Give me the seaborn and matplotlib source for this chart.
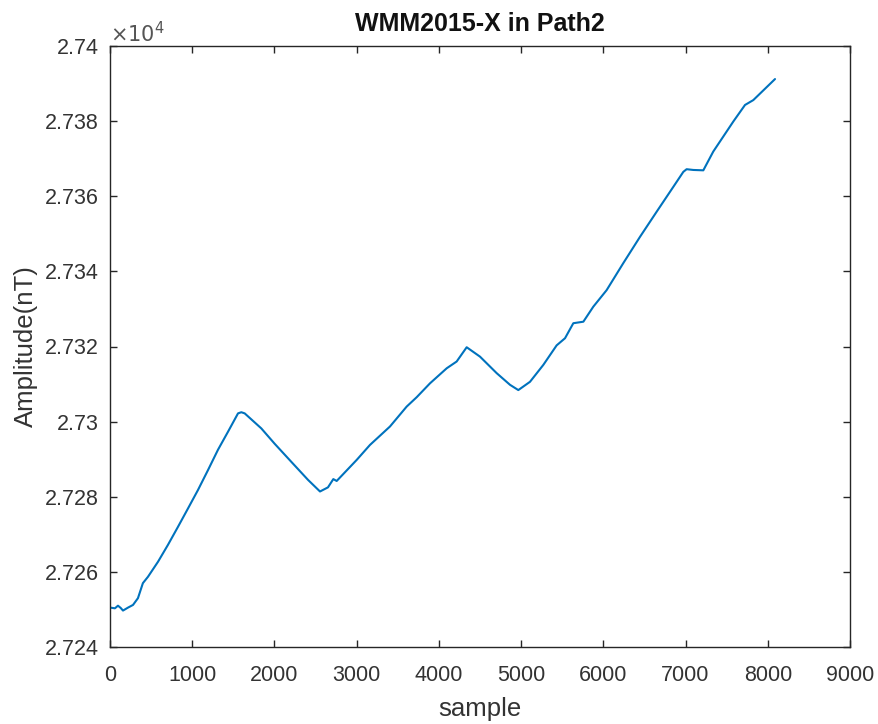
import matplotlib
matplotlib.use("Agg")
import matplotlib.pyplot as plt
import seaborn as sns
import pandas as pd

# ---- data ----
sample = [0, 60, 97, 130, 158, 220, 280, 340, 400, 462, 584, 705, 827, 949,
          1070, 1192, 1313, 1435, 1557, 1597, 1638, 1840, 2003, 2205, 2408,
          2554, 2651, 2716, 2757, 3000, 3162, 3405, 3608, 3730, 3892, 4095,
          4216, 4338, 4500, 4703, 4865, 4966, 5108, 5270, 5432, 5534, 5635,
          5757, 5878, 6040, 6243, 6446, 6649, 6851, 6973, 7013, 7094, 7216,
          7337, 7459, 7581, 7723, 7824, 8088]
amplitude = [27250.5, 27250.3, 27251.0, 27250.4, 27249.7, 27250.5, 27251.2,
             27253.0, 27257.0, 27258.7, 27262.7, 27267.2, 27272.0, 27276.9,
             27281.8, 27287.1, 27292.5, 27297.3, 27302.2, 27302.5, 27302.2,
             27298.2, 27294.1, 27289.3, 27284.5, 27281.4, 27282.5, 27284.7,
             27284.2, 27289.8, 27293.8, 27298.7, 27304.0, 27306.5, 27310.2,
             27314.2, 27316.0, 27319.8, 27317.3, 27312.9, 27309.8, 27308.4,
             27310.6, 27315.1, 27320.3, 27322.2, 27326.2, 27326.6, 27330.6,
             27335.0, 27342.2, 27349.2, 27355.9, 27362.5, 27366.5, 27367.2,
             27367.0, 27366.9, 27371.9, 27375.9, 27379.9, 27384.3, 27385.6,
             27391.2]

x_ticks = [0, 1000, 2000, 3000, 4000, 5000, 6000, 7000, 8000, 9000]
x_tick_labels = ["0", "1000", "2000", "3000", "4000", "5000", "6000",
                 "7000", "8000", "9000"]
y_ticks = [27240, 27260, 27280, 27300, 27320, 27340, 27360, 27380, 27400]
y_tick_labels = ["2.724", "2.726", "2.728", "2.73", "2.732", "2.734",
                 "2.736", "2.738", "2.74"]

title = "WMM2015-X in Path2"
x_label = "sample"
y_label = "Amplitude(nT)"

# ---- styling ----
sns.set_style("white")
plt.rcParams["font.family"] = ["Liberation Sans", "DejaVu Sans"]
ink = "#262626"
txt = "#333333"

fig = plt.figure(figsize=(8.79, 7.24), dpi=100)
ax = fig.add_axes([110 / 879, 1 - 647 / 724, 740 / 879, 601 / 724])

df = pd.DataFrame({"sample": sample, "amplitude": amplitude})
sns.lineplot(data=df, x="sample", y="amplitude", ax=ax, color="#0072BD",
             linewidth=1.5, estimator=None, sort=False)

ax.set_xlim(0, 9000)
ax.set_ylim(27240, 27400)
ax.set_xticks(x_ticks)
ax.set_xticklabels(x_tick_labels)
ax.set_yticks(y_ticks)
ax.set_yticklabels(y_tick_labels)

ax.tick_params(axis="both", direction="in", length=5, width=1,
               color=ink, labelcolor=txt, labelsize=15.5, top=True,
               right=True, bottom=True, left=True)
ax.tick_params(axis="x", pad=13)
ax.tick_params(axis="y", pad=8)
for s in ax.spines.values():
    s.set_visible(True)
    s.set_color(ink)
    s.set_linewidth(1)

ax.set_xlabel(x_label, fontsize=18.5, color=txt, labelpad=8)
ax.set_ylabel(y_label, fontsize=18.5, color=txt, labelpad=5)
ax.set_title(title, fontsize=18, fontweight="bold", color="#111111", pad=11)

ax.text(0.0, 1.0, r"$\times10^{4}$", transform=ax.transAxes,
        fontsize=15, color="#555555", ha="left", va="bottom")

fig.savefig("out.png", dpi=100, facecolor="white")
